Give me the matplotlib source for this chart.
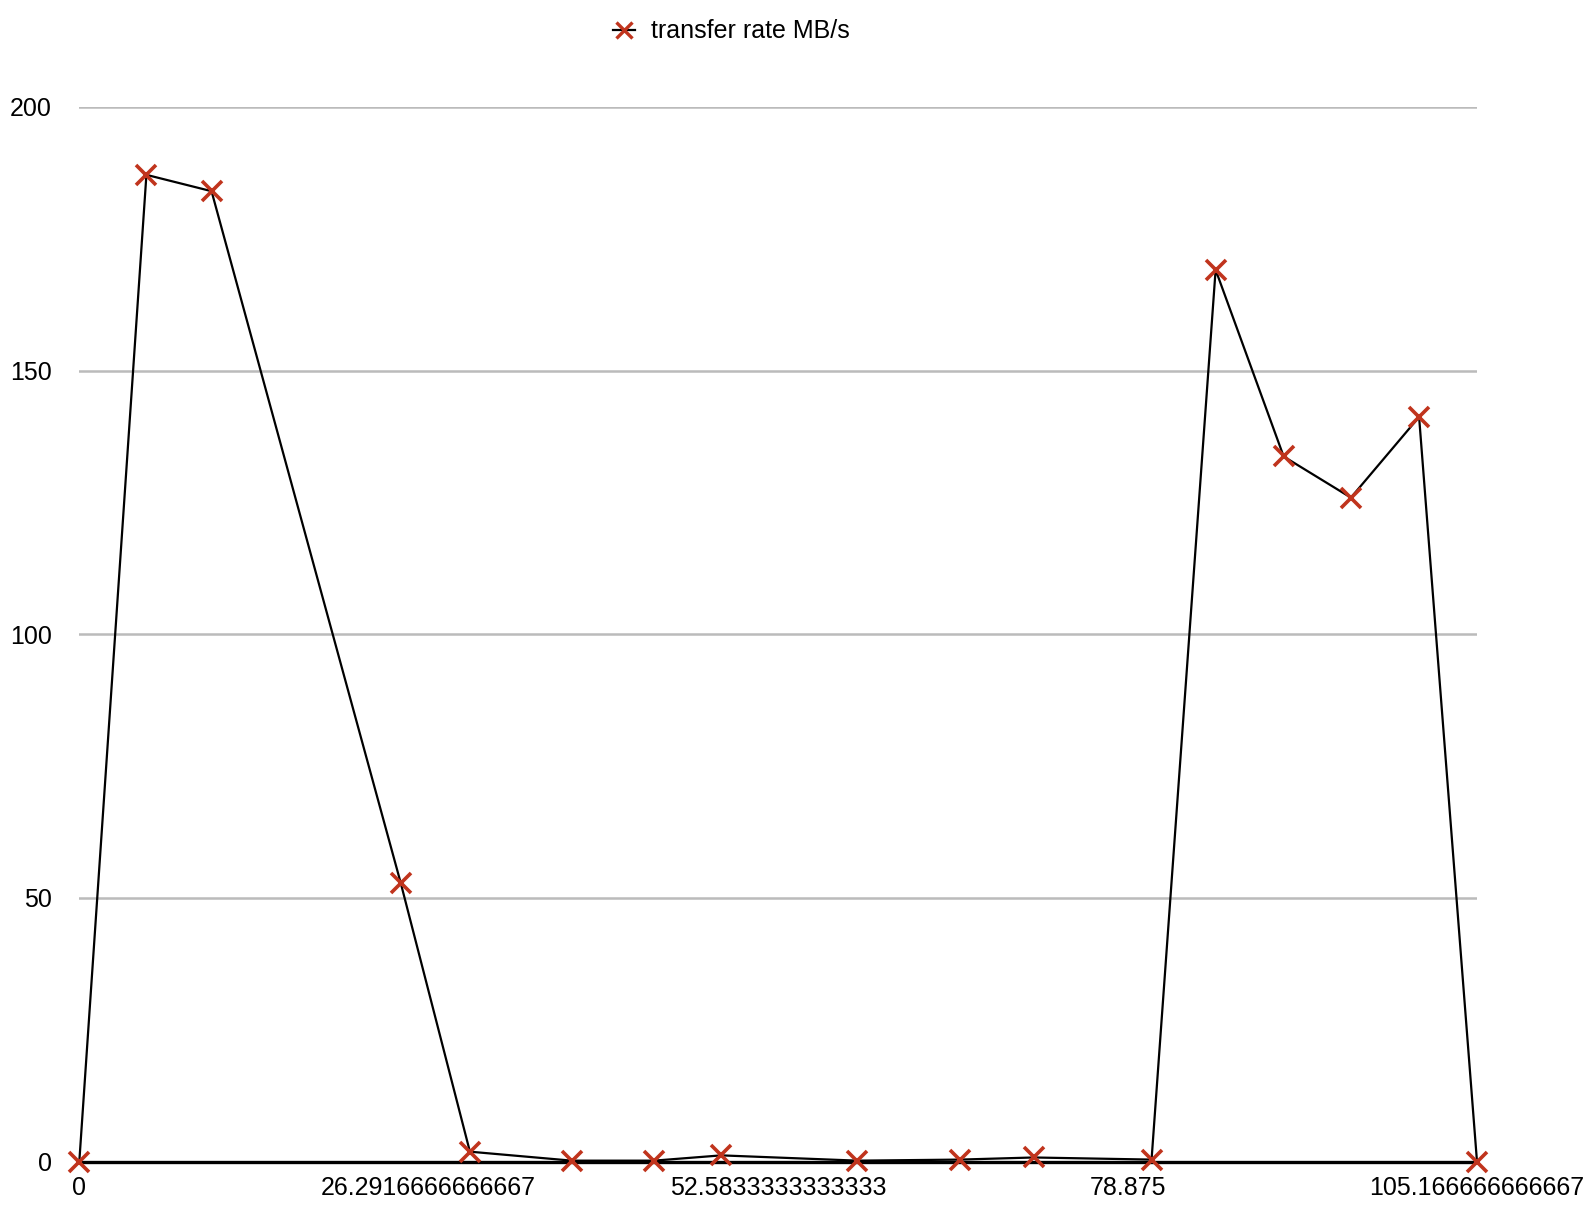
import matplotlib
matplotlib.use("Agg")
import matplotlib.pyplot as plt
from matplotlib.lines import Line2D

time_s = [0, 5.05, 9.95, 24.19, 29.39, 37.05, 43.25, 48.30, 58.55, 66.28,
          71.80, 80.68, 85.50, 90.62, 95.68, 100.81, 105.1666666666667]
rate_mbs = [0, 187.1, 184.0, 52.8, 1.9, 0.2, 0.2, 1.2, 0.2, 0.4,
            0.8, 0.4, 169.1, 133.7, 125.9, 141.2, 0]
x_ticks = [0, 26.2916666666667, 52.5833333333333, 78.875, 105.166666666667]
x_tick_labels = ["0", "26.2916666666667", "52.5833333333333", "78.875", "105.166666666667"]
y_ticks = [0, 50, 100, 150, 200]

plt.rcParams['font.family'] = ['Liberation Sans', 'DejaVu Sans']

W, H = 1595, 1207
fig = plt.figure(figsize=(W/100, H/100), dpi=100)
left, right = 79.3/W, 1477/W
bottom, top = 1 - 1161.7/H, 1 - 106.8/H
ax = fig.add_axes([left, bottom, right-left, top-bottom])

FS = 18
ax.set_xlim(0, 105.1666666666667)
ax.set_ylim(0, 200)
for s in ax.spines.values():
    s.set_visible(False)
ax.set_yticks(y_ticks)
ax.set_xticks(x_ticks)
ax.set_xticklabels(x_tick_labels)
ax.tick_params(length=0, labelsize=FS, colors='black')
ax.tick_params(axis='y', pad=20)
ax.tick_params(axis='x', pad=10)
ax.yaxis.grid(True, color='#bbbbbb', linewidth=1.8)
ax.set_axisbelow(True)
ax.axhline(0, color='black', linewidth=2.4, zorder=1.5, clip_on=False)

ax.plot(time_s, rate_mbs, color='black', linewidth=1.6, zorder=2,
        clip_on=False)
ax.plot(time_s, rate_mbs, linestyle='none', marker='x', markersize=14,
        markeredgewidth=2.6, color='#c0341d', zorder=3, clip_on=False)

h = Line2D([], [], color='black', linewidth=1.6, marker='x', markersize=12,
           markeredgewidth=2.4, markeredgecolor='#c0341d')
fig.legend([h], ['transfer rate MB/s'], loc='center', bbox_to_anchor=(0.4586, 1 - 31.5/H),
           frameon=False, fontsize=FS, handlelength=0.9, handletextpad=0.65)

fig.savefig('out.png', dpi=100)
